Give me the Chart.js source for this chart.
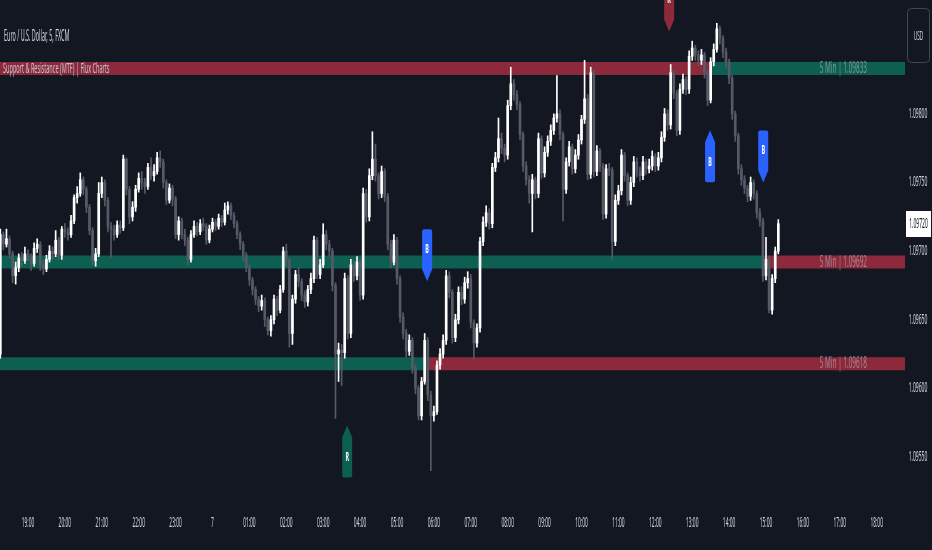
<!DOCTYPE html>
<html>
<head>
<meta charset="utf-8">
<script src="https://cdn.jsdelivr.net/npm/chart.js@4.4.1/dist/chart.umd.min.js"></script>
<style>
  html, body { margin: 0; padding: 0; background: #131722; }
  #wrap { width: 932px; height: 550px; position: relative; }
</style>
</head>
<body>
<div id="wrap"><canvas id="chart"></canvas></div>
<script>
// EUR/USD 5 min, FXCM - candles (one per 5 minutes, first bar 18:15)
const firstOpen = 1.09625;
const closes = [
  1.09712, 1.09705, 1.09709, 1.09698, 1.09682, 1.09688, 1.09695, 1.09693, 1.09698, 1.09696,
  1.09691, 1.09702, 1.09705, 1.09690, 1.09687, 1.09694, 1.09700, 1.09698, 1.09708, 1.09697,
  1.09716, 1.09714, 1.09712, 1.09722, 1.09739, 1.09742, 1.09752, 1.09745, 1.09732, 1.09715,
  1.09693, 1.09698, 1.09742, 1.09750, 1.09737, 1.09718, 1.09716, 1.09712, 1.09719, 1.09717,
  1.09767, 1.09745, 1.09725, 1.09732, 1.09745, 1.09753, 1.09750, 1.09747, 1.09761, 1.09755,
  1.09758, 1.09768, 1.09765, 1.09750, 1.09737, 1.09746, 1.09738, 1.09712, 1.09722, 1.09712,
  1.09708, 1.09694, 1.09712, 1.09718, 1.09714, 1.09720, 1.09718, 1.09708, 1.09716, 1.09721,
  1.09718, 1.09724, 1.09721, 1.09730, 1.09733, 1.09726, 1.09720, 1.09712, 1.09705, 1.09697,
  1.09688, 1.09679, 1.09672, 1.09665, 1.09660, 1.09664, 1.09650, 1.09642, 1.09650, 1.09665,
  1.09657, 1.09672, 1.09700, 1.09693, 1.09640, 1.09665, 1.09683, 1.09678, 1.09668, 1.09663,
  1.09672, 1.09680, 1.09708, 1.09683, 1.09690, 1.09712, 1.09705, 1.09700, 1.09675, 1.09625,
  1.09628, 1.09626, 1.09680, 1.09640, 1.09690, 1.09682, 1.09692, 1.09668, 1.09742, 1.09725,
  1.09755, 1.09767, 1.09755, 1.09742, 1.09758, 1.09740, 1.09705, 1.09692, 1.09708, 1.09680,
  1.09652, 1.09640, 1.09627, 1.09635, 1.09615, 1.09600, 1.09580, 1.09605, 1.09635, 1.09595,
  1.09580, 1.09583, 1.09617, 1.09625, 1.09635, 1.09682, 1.09670, 1.09637, 1.09650, 1.09670,
  1.09665, 1.09677, 1.09680, 1.09648, 1.09633, 1.09644, 1.09707, 1.09721, 1.09728, 1.09720,
  1.09761, 1.09768, 1.09782, 1.09775, 1.09770, 1.09806, 1.09822, 1.09814, 1.09807, 1.09785,
  1.09762, 1.09752, 1.09742, 1.09752, 1.09742, 1.09782, 1.09757, 1.09772, 1.09780, 1.09788,
  1.09797, 1.09800, 1.09785, 1.09745, 1.09765, 1.09776, 1.09760, 1.09770, 1.09781, 1.09796,
  1.09811, 1.09756, 1.09830, 1.09758, 1.09773, 1.09762, 1.09727, 1.09760, 1.09759, 1.09707,
  1.09737, 1.09744, 1.09770, 1.09755, 1.09737, 1.09750, 1.09765, 1.09758, 1.09755, 1.09765,
  1.09760, 1.09762, 1.09769, 1.09762, 1.09768, 1.09783, 1.09800, 1.09792, 1.09830, 1.09815,
  1.09788, 1.09818, 1.09825, 1.09818, 1.09842, 1.09848, 1.09843, 1.09839, 1.09843, 1.09830,
  1.09810, 1.09838, 1.09847, 1.09862, 1.09855, 1.09845, 1.09838, 1.09826, 1.09800, 1.09784,
  1.09760, 1.09752, 1.09746, 1.09740, 1.09750, 1.09742, 1.09728, 1.09722, 1.09682, 1.09694,
  1.09657, 1.09680, 1.09700, 1.09720
];
const highs = [
  1.09716, 1.09714, 1.09716, 1.09711, 1.09700, 1.09692, 1.09698, 1.09699, 1.09703, 1.09701,
  1.09698, 1.09706, 1.09709, 1.09707, 1.09693, 1.09697, 1.09704, 1.09703, 1.09715, 1.09710,
  1.09718, 1.09720, 1.09717, 1.09726, 1.09741, 1.09747, 1.09757, 1.09754, 1.09747, 1.09734,
  1.09717, 1.09702, 1.09750, 1.09754, 1.09752, 1.09739, 1.09721, 1.09719, 1.09722, 1.09722,
  1.09770, 1.09768, 1.09747, 1.09736, 1.09748, 1.09757, 1.09758, 1.09753, 1.09764, 1.09768,
  1.09763, 1.09772, 1.09773, 1.09767, 1.09752, 1.09749, 1.09748, 1.09740, 1.09725, 1.09724,
  1.09716, 1.09710, 1.09715, 1.09722, 1.09721, 1.09723, 1.09724, 1.09720, 1.09719, 1.09724,
  1.09723, 1.09727, 1.09726, 1.09735, 1.09736, 1.09735, 1.09728, 1.09722, 1.09714, 1.09707,
  1.09699, 1.09690, 1.09681, 1.09674, 1.09667, 1.09668, 1.09666, 1.09652, 1.09653, 1.09668,
  1.09667, 1.09675, 1.09703, 1.09705, 1.09695, 1.09668, 1.09686, 1.09688, 1.09680, 1.09671,
  1.09675, 1.09684, 1.09711, 1.09710, 1.09694, 1.09720, 1.09715, 1.09708, 1.09702, 1.09677,
  1.09633, 1.09632, 1.09684, 1.09682, 1.09694, 1.09693, 1.09696, 1.09694, 1.09746, 1.09745,
  1.09760, 1.09787, 1.09778, 1.09757, 1.09762, 1.09760, 1.09742, 1.09708, 1.09712, 1.09710,
  1.09682, 1.09655, 1.09643, 1.09639, 1.09637, 1.09617, 1.09602, 1.09608, 1.09640, 1.09637,
  1.09598, 1.09587, 1.09620, 1.09629, 1.09639, 1.09686, 1.09685, 1.09672, 1.09654, 1.09674,
  1.09674, 1.09681, 1.09685, 1.09683, 1.09650, 1.09647, 1.09710, 1.09725, 1.09733, 1.09731,
  1.09764, 1.09772, 1.09797, 1.09786, 1.09778, 1.09810, 1.09834, 1.09825, 1.09817, 1.09809,
  1.09787, 1.09765, 1.09755, 1.09756, 1.09754, 1.09786, 1.09784, 1.09776, 1.09784, 1.09792,
  1.09800, 1.09828, 1.09803, 1.09787, 1.09768, 1.09780, 1.09778, 1.09774, 1.09785, 1.09799,
  1.09839, 1.09814, 1.09834, 1.09832, 1.09777, 1.09775, 1.09764, 1.09763, 1.09764, 1.09761,
  1.09741, 1.09748, 1.09774, 1.09772, 1.09757, 1.09754, 1.09769, 1.09768, 1.09761, 1.09769,
  1.09767, 1.09767, 1.09773, 1.09771, 1.09772, 1.09787, 1.09804, 1.09803, 1.09836, 1.09832,
  1.09817, 1.09822, 1.09829, 1.09827, 1.09846, 1.09853, 1.09850, 1.09846, 1.09847, 1.09845,
  1.09832, 1.09841, 1.09851, 1.09866, 1.09864, 1.09857, 1.09848, 1.09840, 1.09828, 1.09802,
  1.09786, 1.09763, 1.09755, 1.09748, 1.09754, 1.09752, 1.09744, 1.09731, 1.09724, 1.09710,
  1.09696, 1.09683, 1.09703, 1.09723
];
const lows = [
  1.09622, 1.09701, 1.09703, 1.09695, 1.09677, 1.09676, 1.09685, 1.09689, 1.09691, 1.09693,
  1.09686, 1.09689, 1.09699, 1.09686, 1.09683, 1.09685, 1.09692, 1.09694, 1.09696, 1.09694,
  1.09694, 1.09710, 1.09708, 1.09710, 1.09720, 1.09735, 1.09740, 1.09741, 1.09728, 1.09712,
  1.09690, 1.09689, 1.09696, 1.09739, 1.09733, 1.09714, 1.09695, 1.09708, 1.09710, 1.09713,
  1.09715, 1.09741, 1.09720, 1.09722, 1.09729, 1.09743, 1.09745, 1.09742, 1.09745, 1.09752,
  1.09751, 1.09756, 1.09761, 1.09746, 1.09734, 1.09735, 1.09733, 1.09709, 1.09708, 1.09709,
  1.09704, 1.09690, 1.09692, 1.09710, 1.09711, 1.09712, 1.09715, 1.09705, 1.09706, 1.09714,
  1.09715, 1.09716, 1.09718, 1.09719, 1.09727, 1.09723, 1.09717, 1.09709, 1.09701, 1.09693,
  1.09685, 1.09675, 1.09668, 1.09661, 1.09656, 1.09657, 1.09645, 1.09639, 1.09638, 1.09647,
  1.09653, 1.09655, 1.09670, 1.09689, 1.09630, 1.09632, 1.09662, 1.09674, 1.09664, 1.09659,
  1.09660, 1.09669, 1.09677, 1.09680, 1.09680, 1.09688, 1.09701, 1.09696, 1.09671, 1.09578,
  1.09605, 1.09602, 1.09622, 1.09636, 1.09637, 1.09678, 1.09679, 1.09664, 1.09665, 1.09721,
  1.09722, 1.09752, 1.09751, 1.09738, 1.09739, 1.09736, 1.09701, 1.09688, 1.09690, 1.09676,
  1.09648, 1.09636, 1.09623, 1.09624, 1.09611, 1.09596, 1.09577, 1.09577, 1.09603, 1.09591,
  1.09540, 1.09576, 1.09581, 1.09614, 1.09622, 1.09632, 1.09666, 1.09633, 1.09634, 1.09647,
  1.09661, 1.09662, 1.09673, 1.09644, 1.09621, 1.09630, 1.09641, 1.09704, 1.09718, 1.09716,
  1.09717, 1.09758, 1.09765, 1.09771, 1.09765, 1.09767, 1.09803, 1.09810, 1.09803, 1.09781,
  1.09758, 1.09748, 1.09735, 1.09714, 1.09738, 1.09739, 1.09753, 1.09754, 1.09769, 1.09777,
  1.09785, 1.09794, 1.09781, 1.09722, 1.09742, 1.09762, 1.09756, 1.09757, 1.09767, 1.09778,
  1.09793, 1.09752, 1.09753, 1.09754, 1.09755, 1.09758, 1.09723, 1.09724, 1.09755, 1.09694,
  1.09704, 1.09734, 1.09741, 1.09751, 1.09733, 1.09734, 1.09747, 1.09754, 1.09751, 1.09752,
  1.09756, 1.09757, 1.09759, 1.09758, 1.09759, 1.09765, 1.09780, 1.09788, 1.09789, 1.09811,
  1.09784, 1.09785, 1.09815, 1.09814, 1.09815, 1.09839, 1.09839, 1.09835, 1.09836, 1.09826,
  1.09806, 1.09808, 1.09835, 1.09845, 1.09851, 1.09841, 1.09834, 1.09822, 1.09796, 1.09780,
  1.09756, 1.09748, 1.09742, 1.09736, 1.09737, 1.09738, 1.09724, 1.09718, 1.09678, 1.09679,
  1.09655, 1.09654, 1.09677, 1.09698
];

const xTickLabels = ["19:00", "20:00", "21:00", "22:00", "23:00", "7", "01:00", "02:00", "03:00",
  "04:00", "05:00", "06:00", "07:00", "08:00", "09:00", "10:00", "11:00", "12:00", "13:00",
  "14:00", "15:00", "16:00", "17:00", "18:00"];
const yTickValues = [1.09550, 1.09600, 1.09650, 1.09700, 1.09750, 1.09800];

// support / resistance levels (5 min) and the bar where each one flipped
const levels = [1.09833, 1.09692, 1.09618];
const levelBreakBar = [230.8, 248.7, 138.8];
const levelWasSupport = [false, true, true];

// break (B) and retest (R) labels: bar, price at the arrow tip
const markerBar = [112.8, 138.8, 217.5, 230.8, 248.1];
const markerTip = [1.09573, 1.09678, 1.09860, 1.09788, 1.09750];
const markerText = ["R", "B", "R", "B", "B"];
const markerUp = [true, false, false, true, false];
const markerColor = ["sup", "brk", "res", "brk", "brk"];

// ---------------------------------------------------
// colours
// ---------------------------------------------------
const BG = "#131722";
const GREEN = "#0d5f51";
const RED = "#8c2a3b";
const BLUE = "#2962ff";
const BULL = "#ffffff";
const BEAR = "#555a66";
const TEXT = "#d1d4dc";

const X_MIN = -0.1, X_MAX = 294.2;
const FONT = "'Noto Sans', 'DejaVu Sans', sans-serif";

const opens = closes.map((c, i) => i === 0 ? firstOpen : closes[i - 1]);
const candleColor = ctx => closes[ctx.dataIndex] >= opens[ctx.dataIndex] ? BULL : BEAR;

// squeezed text (the screenshot is compressed horizontally)
function sqText(ctx, txt, x, y, size, sq, color, align, weight) {
    ctx.save();
    ctx.translate(x, y);
    ctx.scale(sq, 1);
    ctx.font = (weight || "normal") + " " + size + "px " + FONT;
    ctx.fillStyle = color;
    ctx.textAlign = align || "left";
    ctx.textBaseline = "middle";
    ctx.fillText(txt, 0, 0);
    ctx.restore();
}

function drawMarker(ctx, cx, tipY, up, color, txt) {
    const w = 10, body = 40, ptr = 12, r = 2;
    const h = w / 2;
    let top, bot;
    ctx.fillStyle = color;
    ctx.beginPath();
    if (up) {
        top = tipY + ptr; bot = top + body;
        ctx.moveTo(cx, tipY);
        ctx.lineTo(cx + h, top);
        ctx.lineTo(cx + h, bot - r);
        ctx.quadraticCurveTo(cx + h, bot, cx + h - r, bot);
        ctx.lineTo(cx - h + r, bot);
        ctx.quadraticCurveTo(cx - h, bot, cx - h, bot - r);
        ctx.lineTo(cx - h, top);
    } else {
        bot = tipY - ptr; top = bot - body;
        ctx.moveTo(cx, tipY);
        ctx.lineTo(cx + h, bot);
        ctx.lineTo(cx + h, top + r);
        ctx.quadraticCurveTo(cx + h, top, cx + h - r, top);
        ctx.lineTo(cx - h + r, top);
        ctx.quadraticCurveTo(cx - h, top, cx - h, top + r);
        ctx.lineTo(cx - h, bot);
    }
    ctx.closePath();
    ctx.fill();
    sqText(ctx, txt, cx, (top + bot) / 2, 12, 0.45, "#ffffff", "center", "bold");
}

// ---------------------------------------------------
// DATASETS
// ---------------------------------------------------
const bandSets = [];
levels.forEach((lv, k) => {
    const before = levelWasSupport[k] ? GREEN : RED;
    const after = levelWasSupport[k] ? RED : GREEN;
    [[X_MIN, levelBreakBar[k], before], [levelBreakBar[k], X_MAX, after]].forEach(seg => {
        bandSets.push({
            type: "line",
            data: [{ x: seg[0], y: lv }, { x: seg[1], y: lv }],
            borderColor: seg[2],
            borderWidth: 13,
            borderCapStyle: "butt",
            pointRadius: 0,
            order: 10
        });
    });
});

const wickSet = {
    type: "bar",
    data: closes.map((c, i) => ({ x: i, y: [lows[i], highs[i]] })),
    backgroundColor: candleColor,
    barThickness: 1,
    grouped: false,
    order: 2
};
const bodySet = {
    type: "bar",
    data: closes.map((c, i) => ({ x: i, y: [opens[i], c] })),
    backgroundColor: candleColor,
    barThickness: 2,
    minBarLength: 1,
    grouped: false,
    order: 1
};

// ---------------------------------------------------
// OVERLAY: labels, markers, axes text
// ---------------------------------------------------
const overlay = {
    id: "overlay",
    beforeDraw(chart) {
        const { ctx, width, height } = chart;
        ctx.save();
        ctx.fillStyle = BG;
        ctx.fillRect(0, 0, width, height);
        ctx.restore();
    },
    afterDatasetsDraw(chart) {
        const { ctx, chartArea: a, scales: { x, y } } = chart;
        levels.forEach(lv => {
            sqText(ctx, "5 Min | " + lv.toFixed(5), a.right - 38, y.getPixelForValue(lv), 16, 0.4,
                "rgba(185,192,200,0.6)", "right");
        });
        ctx.save();
        ctx.beginPath();
        ctx.rect(a.left, a.top, a.right - a.left, a.bottom - a.top);
        ctx.clip();
        markerBar.forEach((b, k) => {
            const col = markerColor[k] === "brk" ? BLUE : (markerColor[k] === "sup" ? GREEN : RED);
            drawMarker(ctx, x.getPixelForValue(b), y.getPixelForValue(markerTip[k]), markerUp[k], col, markerText[k]);
        });
        ctx.restore();
    },
    afterDraw(chart) {
        const { ctx, chartArea: a, scales: { x, y } } = chart;

        // legend
        sqText(ctx, "Euro / U.S. Dollar, 5, FXCM", 4, 36, 16, 0.34, TEXT);
        sqText(ctx, "Support & Resistance (MTF) | Flux Charts", 3, 69, 15, 0.37, "#c3c6ce");

        // time axis
        xTickLabels.forEach((lab, j) => {
            sqText(ctx, lab, x.getPixelForValue(9 + 12 * j), 523, 14, 0.35, TEXT, "center");
        });

        // price axis
        yTickValues.forEach(v => {
            sqText(ctx, v.toFixed(5), 918, y.getPixelForValue(v), 14, 0.36, TEXT, "center");
        });

        // last price tag
        const last = closes[closes.length - 1];
        const ly = y.getPixelForValue(last);
        ctx.fillStyle = "#ffffff";
        ctx.fillRect(a.right + 1, Math.round(ly) - 13, 25, 26);
        sqText(ctx, last.toFixed(5), 918.5, ly, 14, 0.36, BG, "center");

        // currency button
        ctx.save();
        ctx.strokeStyle = "#434651";
        ctx.lineWidth = 1;
        ctx.beginPath();
        ctx.roundRect(907.5, 8.5, 22, 54, 4);
        ctx.stroke();
        ctx.restore();
        sqText(ctx, "USD", 918.5, 36, 13, 0.36, TEXT, "center");
    }
};

new Chart(document.getElementById("chart"), {
    type: "bar",
    data: { datasets: [wickSet, bodySet, ...bandSets] },
    options: {
        responsive: true,
        maintainAspectRatio: false,
        animation: false,
        devicePixelRatio: 1,
        layout: { padding: { left: 0, right: 27, top: 0, bottom: 45 } },
        plugins: { legend: { display: false }, tooltip: { enabled: false } },
        scales: {
            x: { type: "linear", min: X_MIN, max: X_MAX, offset: false, grid: { offset: false }, display: false },
            y: { type: "linear", min: 1.09515, max: 1.09883, display: false }
        }
    },
    plugins: [overlay]
});
</script>
</body>
</html>
